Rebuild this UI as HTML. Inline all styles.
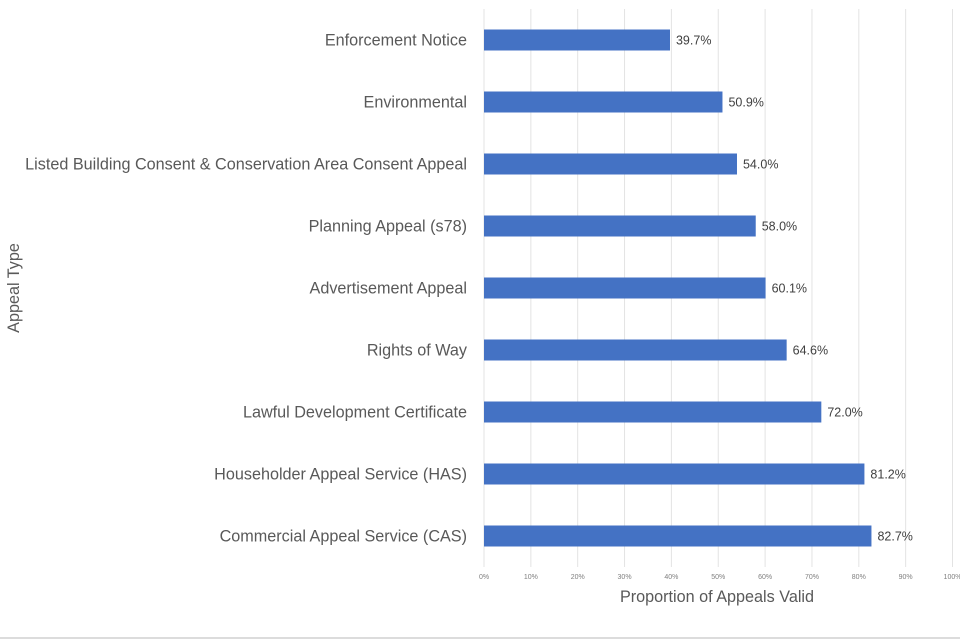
<!DOCTYPE html>
<html><head><meta charset="utf-8"><style>
html,body{margin:0;padding:0;background:#fff;}
svg{display:block;font-family:"Liberation Sans",sans-serif;}
</style></head><body>
<svg id="chart" width="960" height="640">
<line x1="0" y1="638" x2="960" y2="638" stroke="#d0d0d0" stroke-width="1.5"/>
<g id="grid"></g>
<g id="bars"></g>
<text x="717" y="602" text-anchor="middle" font-size="16.2" fill="#595959">Proportion of Appeals Valid</text>
<text transform="translate(19,288) rotate(-90)" text-anchor="middle" font-size="16.2" fill="#595959">Appeal Type</text>
</svg>
<script>
const categories = ["Enforcement Notice","Environmental","Listed Building Consent & Conservation Area Consent Appeal","Planning Appeal (s78)","Advertisement Appeal","Rights of Way","Lawful Development Certificate","Householder Appeal Service (HAS)","Commercial Appeal Service (CAS)"];
const values = [39.7,50.9,54.0,58.0,60.1,64.6,72.0,81.2,82.7];
const valueLabels = ["39.7%","50.9%","54.0%","58.0%","60.1%","64.6%","72.0%","81.2%","82.7%"];
const ticks = [0,10,20,30,40,50,60,70,80,90,100];
const tickLabels = ["0%","10%","20%","30%","40%","50%","60%","70%","80%","90%","100%"];

const NS="http://www.w3.org/2000/svg";
const x0=484, x1=952.5, yTop=9, yBot=567;
const xs=v=>x0+(v/100)*(x1-x0);
const band=(yBot-yTop)/categories.length;
const yc=i=>yTop+band*(i+0.5);
const grid=document.getElementById('grid'), bars=document.getElementById('bars');
function mk(tag,attrs,parent){const e=document.createElementNS(NS,tag);for(const k in attrs)e.setAttribute(k,attrs[k]);parent.appendChild(e);return e;}
ticks.forEach((t,i)=>{
  const l=mk('line',{x1:xs(t),x2:xs(t),y1:yTop,y2:yBot,stroke:'#e3e3e3','stroke-width':1},grid);
  
  
  const tx=mk('text',{x:xs(t),y:579,'text-anchor':'middle','font-size':7,fill:'#7f7f7f'},grid);
  tx.textContent=tickLabels[i];
  
  
});
categories.forEach((c,i)=>{
  const y=yc(i);
  const lab=mk('text',{x:467,y:y+5.5,'text-anchor':'end','font-size':16.2,fill:'#595959'},bars);
  lab.textContent=c;
  
  
  const r=mk('rect',{x:x0,y:y-10.5,width:xs(values[i])-x0,height:21,fill:'#4472c4'},bars);
  
  
  const v=mk('text',{x:xs(values[i])+6,y:y+4.5,'font-size':12.5,fill:'#404040'},bars);
  v.textContent=valueLabels[i];
  
  
});
</script>
</body></html>
